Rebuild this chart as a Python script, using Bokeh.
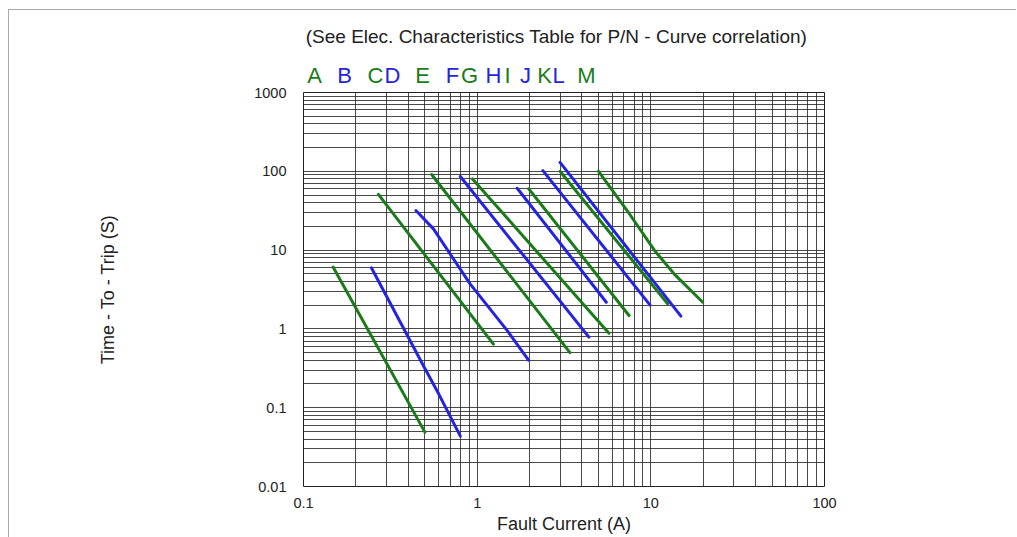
from bokeh.plotting import figure
from bokeh.layouts import column
from bokeh.models import Range1d, FixedTicker, CustomJSTickFormatter
from bokeh.core.properties import value
from bokeh.embed import file_html
from bokeh.resources import INLINE

# ---------------- data ----------------
curve_names = ["A", "B", "C", "D", "E", "F", "G", "H", "I", "J", "K", "L", "M"]

A_current = [0.148, 0.50]
A_time = [6.1, 0.049]
B_current = [0.246, 0.50, 0.60, 0.80]
B_time = [5.96, 0.314, 0.150, 0.0435]
C_current = [0.27, 1.24]
C_time = [51.0, 0.64]
D_current = [0.444, 0.56, 0.91, 1.49, 1.98]
D_time = [31.8, 18.6, 3.73, 0.95, 0.40]
E_current = [0.547, 3.42]
E_time = [91.0, 0.50]
F_current = [0.80, 4.40]
F_time = [86.0, 0.785]
G_current = [0.94, 5.74]
G_time = [80.0, 0.88]
H_current = [1.70, 5.54]
H_time = [61.0, 2.18]
I_current = [1.98, 7.49]
I_time = [60.0, 1.48]
J_current = [2.39, 9.9]
J_time = [102.0, 2.0]
K_current = [3.0, 12.5]
K_time = [100.0, 2.08]
L_current = [3.0, 14.9]
L_time = [130.0, 1.45]
M_current = [5.0, 7.3, 10.5, 13.6, 19.9]
M_time = [100.0, 31.8, 9.9, 5.0, 2.18]

x_ticks = [0.1, 1, 10, 100]
y_ticks = [0.01, 0.1, 1, 10, 100, 1000]

title_text = "(See Elec. Characteristics Table for P/N - Curve correlation)"
x_label = "Fault Current (A)"
y_label = "Time - To - Trip (S)"

# ---------------- styling / layout ----------------
GREEN = "#1b7b1b"
BLUE = "#2424e0"
curve_colors = [GREEN if i % 2 == 0 else BLUE for i in range(len(curve_names))]
FONT = "Liberation Sans"
EDGE = "#a8a8a8"

W = 1016
FRAME_LEFT = 303
FRAME_W = 521
FRAME_H = 394
HEADER_H = 90
OVERLAP = 8
MAIN_TOP = 10
MAIN_BOTTOM = 51
MAIN_H = MAIN_TOP + FRAME_H + MAIN_BOTTOM

# header text positions in page pixels (x from left, y from top)
letter_x = [314, 344, 375, 392, 422, 452, 469, 493, 507, 525, 544, 558, 586]
letter_y = 75
title_x = 556
title_y = 36

series = {
    "A": (A_current, A_time), "B": (B_current, B_time), "C": (C_current, C_time),
    "D": (D_current, D_time), "E": (E_current, E_time), "F": (F_current, F_time),
    "G": (G_current, G_time), "H": (H_current, H_time), "I": (I_current, I_time),
    "J": (J_current, J_time), "K": (K_current, K_time), "L": (L_current, L_time),
    "M": (M_current, M_time),
}

# ---------------- header (title + curve letters) ----------------
# frames are aligned in a column, so the header frame spans the same columns as the chart frame
h = figure(width=W, height=HEADER_H,
           x_range=Range1d(FRAME_LEFT, FRAME_LEFT + FRAME_W),
           y_range=Range1d(HEADER_H, 0),
           x_axis_location=None, y_axis_location=None,
           output_backend="svg", toolbar_location=None,
           min_border_left=FRAME_LEFT, min_border_right=W - FRAME_LEFT - FRAME_W,
           min_border_top=0, min_border_bottom=0)
h.grid.visible = False
h.outline_line_color = None
h.background_fill_color = None
h.border_fill_color = None
h.styles = {
    "background": (f"linear-gradient({EDGE},{EDGE}) 8px 9px / calc(100% - 8px) 1px no-repeat, "
                   f"linear-gradient({EDGE},{EDGE}) 8px 9px / 1px calc(100% - 9px) no-repeat, white"),
}

h.text(x=[title_x], y=[title_y], text=[title_text], text_font=value(FONT),
       text_font_size=value("19px"), text_color="#222222",
       text_align="center", text_baseline="middle")
h.text(x=letter_x, y=[letter_y] * len(curve_names), text=curve_names,
       text_font=value(FONT), text_font_size=value("22px"), text_color=curve_colors,
       text_align="center", text_baseline="middle")

# ---------------- main chart ----------------
p = figure(width=W, height=MAIN_H,
           x_axis_type="log", y_axis_type="log",
           x_range=Range1d(0.1, 100), y_range=Range1d(0.01, 1000),
           output_backend="svg", toolbar_location=None,
           min_border_left=FRAME_LEFT, min_border_right=W - FRAME_LEFT - FRAME_W,
           min_border_top=MAIN_TOP, min_border_bottom=MAIN_BOTTOM)

p.background_fill_color = "white"
p.border_fill_color = None
p.styles = {
    "background": f"linear-gradient({EDGE},{EDGE}) 8px 0 / 1px 100% no-repeat",
    "margin-top": f"-{OVERLAP}px",
}
p.outline_line_color = "#222222"
p.outline_line_width = 1

x_minor = [m * 10.0 ** e for e in range(-1, 2) for m in range(2, 10)]
y_minor = [m * 10.0 ** e for e in range(-2, 3) for m in range(2, 10)]
p.xaxis.ticker = FixedTicker(ticks=x_ticks, minor_ticks=x_minor)
p.yaxis.ticker = FixedTicker(ticks=y_ticks, minor_ticks=y_minor)
fmt = CustomJSTickFormatter(code="return tick.toString();")
p.xaxis.formatter = fmt
p.yaxis.formatter = fmt

for ax in (p.xaxis, p.yaxis):
    ax.axis_line_color = None
    ax.major_tick_line_color = None
    ax.minor_tick_line_color = None
    ax.major_tick_out = 0
    ax.major_tick_in = 0
    ax.minor_tick_out = 0
    ax.minor_tick_in = 0
    ax.major_label_text_font = FONT
    ax.major_label_text_font_size = "14.5px"
    ax.major_label_text_color = "#222222"
    ax.axis_label_text_font = FONT
    ax.axis_label_text_font_size = "18px"
    ax.axis_label_text_font_style = "normal"
    ax.axis_label_text_color = "#222222"

p.xaxis.major_label_standoff = 11
p.xaxis.axis_label_standoff = 3
p.yaxis.major_label_standoff = 17
p.yaxis.axis_label_standoff = 133
p.xaxis.axis_label = x_label
p.yaxis.axis_label = y_label

for g in (p.xgrid, p.ygrid):
    g.grid_line_color = "#2a2a2a"
    g.grid_line_alpha = 0.85
    g.grid_line_width = 1
    g.minor_grid_line_color = "#2a2a2a"
    g.minor_grid_line_alpha = 0.85
    g.minor_grid_line_width = 1

for name, color in zip(curve_names, curve_colors):
    xs, ys = series[name]
    p.line(xs, ys, line_color=color, line_width=3, line_cap="round", line_join="round")

layout = column(h, p, spacing=0)

open("out.html", "w").write(file_html(layout, INLINE))
